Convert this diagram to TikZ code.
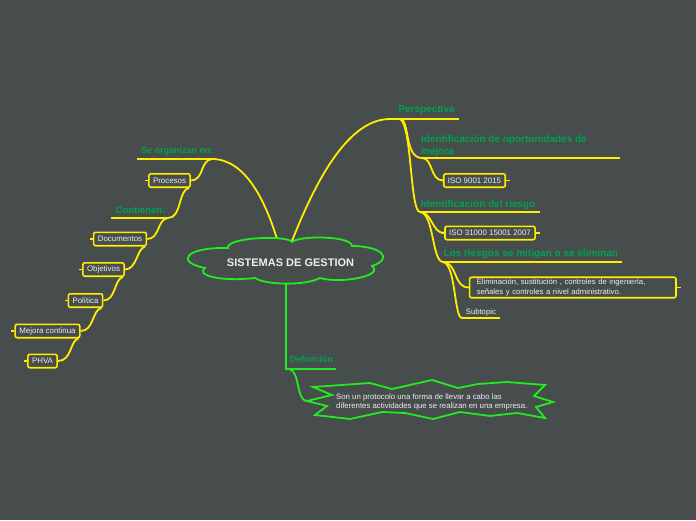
\documentclass[tikz,border=0pt]{standalone}
\usepackage{fontspec}
\setmainfont{Liberation Sans}
\definecolor{bg}{RGB}{71,76,76}
\definecolor{ylw}{RGB}{255,238,0}
\definecolor{grn}{RGB}{0,163,80}
\definecolor{lgrn}{RGB}{34,235,34}
\definecolor{txt}{RGB}{238,238,238}
\begin{document}
\begin{tikzpicture}[x=1pt,y=-1pt,
  conn/.style={draw=ylw,line width=1.8pt},
  gline/.style={draw=lgrn,line width=1.8pt},
  box/.style={draw=ylw,line width=1.6pt,rounded corners=2pt,fill=bg,text=txt,
    font=\fontsize{7.9}{9.3}\selectfont,inner xsep=4.2pt,inner ysep=0pt,minimum height=13.4pt},
  topic/.style={text=grn,font=\bfseries\fontsize{10}{12}\selectfont,anchor=base west,inner sep=0pt},
  small/.style={text=txt,font=\fontsize{7.7}{9.3}\selectfont,inner sep=0pt},
  stub/.style={draw=ylw,line width=1.4pt}]
\fill[bg] (0,0) rectangle (696,520);
\useasboundingbox (0,0) rectangle (696,520);

% coordinates
\coordinate (ctA) at (277,239);
\coordinate (ctB) at (292,241);
\coordinate (cbot) at (286,282);
\coordinate (soR) at (212,159);
\coordinate (soL) at (137,159);
\coordinate (coR) at (168,218);
\coordinate (coL) at (111,218);
\coordinate (peL) at (390,119);
\coordinate (peR) at (459,119);
\coordinate (peB) at (400,119);
\coordinate (opL) at (422,158);
\coordinate (opR) at (620,158);
\coordinate (riL) at (420,212);
\coordinate (riR) at (540,212);
\coordinate (lrL) at (443,262);
\coordinate (lrR) at (622,262);
\coordinate (suL) at (462,318);
\coordinate (suR) at (500,318);
\coordinate (deL) at (286,369);
\coordinate (deR) at (336,369);
\coordinate (sbL) at (307,401);

% boxes
\node[box] (proc) at (169.5,180.5) {Procesos};
\node[box] (doc) at (120,239) {Documentos};
\node[box] (obj) at (103.5,269.5) {Objetivos};
\node[box] (pol) at (85.5,300.5) {Política};
\node[box] (mej) at (47.5,331) {Mejora continua};
\node[box] (phva) at (42.5,361) {PHVA};
\node[box] (iso1) at (474.5,180.5) {ISO 9001 2015};
\node[box] (iso2) at (490,233) {ISO 31000 15001 2007};
\node[box,font=\fontsize{7.7}{9.3}\selectfont,anchor=west,text width=192pt,align=left,inner xsep=7.2pt,inner ysep=2pt] (eli) at (468.8,287.5)
  {Eliminación, sustitución , controles de ingeniería,\\señales y controles a nivel administrativo.};

% stubs
\foreach \b in {proc,doc,obj,pol,mej,phva,iso2}{\draw[stub] (\b.west) -- ++(-3,0);}
\foreach \b in {iso1,iso2,eli}{\draw[stub] (\b.east) -- ++(4,0);}

% left branch
\draw[conn] (ctA) .. controls (265,200) and (245,159) .. (soR);
\draw[conn] (soL) -- (soR);
\draw[conn] (soR) .. controls (200,160) and (204,180.5) .. (proc.east);
\draw[conn] ([xshift=-2pt]proc.south east) .. controls (178,190) and (182,218) .. (coR);
\draw[conn] (coL) -- (coR);
\draw[conn] (coR) .. controls (157,219) and (160,239) .. (doc.east);
\draw[conn] ([xshift=-2pt]doc.south east) .. controls (137,248) and (137,269.5) .. (obj.east);
\draw[conn] ([xshift=-2pt]obj.south east) .. controls (114,279) and (116,300.5) .. (pol.east);
\draw[conn] ([xshift=-2pt]pol.south east) .. controls (92,310) and (94,331) .. (mej.east);
\draw[conn] ([xshift=-2pt]mej.south east) .. controls (70,340) and (72,361) .. (phva.east);

% right branch
\draw[conn] (ctB) .. controls (318,175) and (350,119) .. (peL);
\draw[conn] (peL) -- (peR);
\draw[conn] (peB) .. controls (410,119) and (404,158) .. (opL);
\draw[conn] (opL) -- (opR);
\draw[conn] (peB) .. controls (412,125) and (410,212) .. (riL);
\draw[conn] (opL) .. controls (433,158) and (430,180.5) .. (iso1.west);
\draw[conn] (riL) -- (riR);
\draw[conn] (riL) .. controls (432,212) and (432,233) .. (iso2.west);
\draw[conn] (riL) .. controls (434,213) and (432,262) .. (lrL);
\draw[conn] (lrL) -- (lrR);
\draw[conn] (lrL) .. controls (458,263) and (453,287.5) .. (eli.west);
\draw[conn] (lrL) .. controls (456,264) and (454,318) .. (suL);
\draw[conn] (suL) -- (suR);

% definicion branch
\draw[gline] (cbot) -- (deL) -- (deR);
\draw[gline] ([xshift=3pt]deL) .. controls (300,370) and (296,401) .. (sbL);

% cloud
\draw[lgrn,line width=1.8pt,fill=bg] (228,248)
  .. controls (226,237) and (288,235) .. (292,242)
  .. controls (300,235) and (352,236) .. (352,246)
  .. controls (380,246) and (395,258) .. (372,266)
  .. controls (385,276) and (340,284) .. (320,278)
  .. controls (305,286) and (265,285) .. (255,278)
  .. controls (220,282) and (195,275) .. (205,268)
  .. controls (175,262) and (185,247) .. (228,248) -- cycle;
\node[text=txt,font=\bfseries\fontsize{11}{13}\selectfont,inner sep=0pt] (center) at (290.5,263) {SISTEMAS DE GESTION};

% starburst
\draw[lgrn,line width=1.8pt,fill=bg,line join=miter] (313,387) -- (370,383) -- (392,389) -- (432,380) -- (458,388) -- (478,384)
  -- (507,382) -- (545,385) -- (534,396) -- (553,402) -- (536,407) -- (545,418) -- (517,413)
  -- (490,416) -- (460,412) -- (433,419) -- (405,413) -- (382,412) -- (350,419) -- (315,415)
  -- (327,406) -- (sbL) -- (332,395) -- cycle;
\node[small,anchor=west,align=left,font=\fontsize{7.8}{9}\selectfont] (defi) at (336,401.5)
  {Son un protocolo una forma de llevar a cabo las\\diferentes actividades que se realizan en una empresa.};

% labels
\node[topic,font=\bfseries\fontsize{9}{11}\selectfont] (so) at (141,153) {Se organizan en:};
\node[topic,font=\bfseries\fontsize{9.5}{11}\selectfont] (co) at (115.5,213.5) {Contienen:};
\node[topic] (pe) at (398.3,112) {Perspectiva};
\node[topic] (op1) at (421,142) {Identificación de oportunidades de};
\node[topic] (op2) at (421,154) {mejora};
\node[topic] (ri) at (420.7,207) {Identificación del riesgo};
\node[topic] (lr) at (443.3,256.7) {Los riesgos se mitigan o se eliminan};
\node[topic,font=\bfseries\fontsize{9}{11}\selectfont] (de) at (289.3,362.7) {Definición};
\node[small,anchor=base west] (su) at (465.7,314) {Subtopic};
\end{tikzpicture}
\end{document}
